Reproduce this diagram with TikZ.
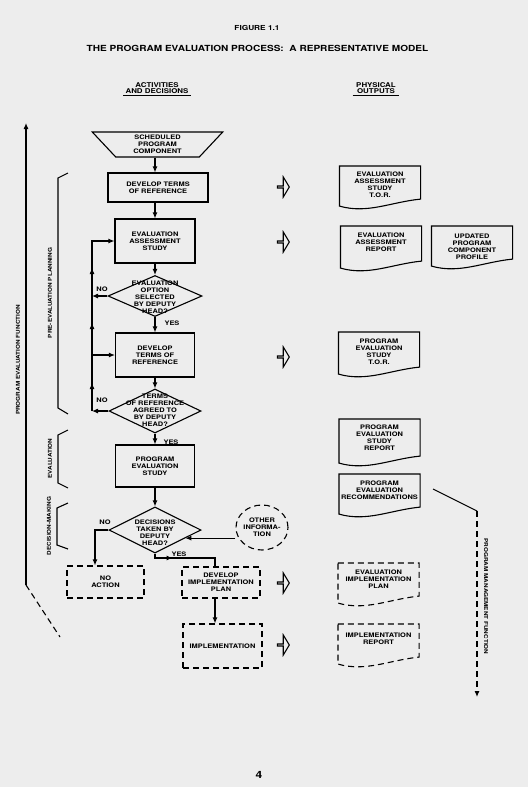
\documentclass[tikz,border=0pt]{standalone}
\usepackage{fontspec}
\setmainfont{TeX Gyre Heros}[FakeStretch=1.2]
\usetikzlibrary{shapes.geometric,shapes.arrows,arrows.meta,decorations.markings,calc}

\newcommand\myboxfont{\fontsize{6.2}{7}\selectfont\bfseries}
\newcommand\myrotfont{\fontsize{5.3}{6}\selectfont\bfseries}
\newcommand\mytitlefont{\fontsize{8.4}{10}\selectfont\bfseries}
\newcommand\myfigfont{\fontsize{6.9}{8}\selectfont\bfseries}
\newcommand\myheadfont{\fontsize{6.6}{6.8}\selectfont\bfseries}
\newcommand\mydoc[2][]{\draw[#1] (#2.north west) -- (#2.north east) -- ([yshift=7pt]#2.south east) .. controls +(-30,3) and +(28,8) .. (#2.south west) -- cycle;}

\begin{document}
\begin{tikzpicture}[x=1pt,y=-1pt,line width=1.1pt,
 box/.style={draw, rectangle, align=center, font=\myboxfont, inner sep=0pt},
 dbox/.style={box, dash pattern=on 6pt off 4pt},
 txt/.style={align=center, font=\myboxfont, inner sep=0pt},
 rot/.style={font=\myrotfont, inner sep=0pt},
 dia/.style={draw, diamond, inner sep=0pt},
 arr/.style={-{Latex[length=6pt,width=5pt]}},
 blk/.style={draw, single arrow, single arrow tip angle=118, single arrow head extend=5pt, minimum width=20pt, minimum height=12pt, inner sep=0pt},
 docshape/.style={rectangle, minimum width=80pt, inner sep=0pt, anchor=north},
 ddash/.style={dash pattern=on 6pt off 4pt},
 midarr/.style={postaction={decorate}, decoration={markings, mark=at position #1 with {\arrow{Latex[length=6pt,width=5pt]}}}}
]
\fill[black!7] (0,0) rectangle (528,787);
\useasboundingbox (0,0) rectangle (528,787);

% titles
\node[font=\myfigfont, inner sep=0pt] (fig) at (257,28) {FIGURE 1.1};
\node[font=\mytitlefont, inner sep=0pt] (title) at (257.5,48) {THE PROGRAM EVALUATION PROCESS:\ \ A REPRESENTATIVE MODEL};
\node[font=\myheadfont, align=center, inner sep=1.5pt] (h1) at (157,88) {ACTIVITIES\\AND DECISIONS};
\draw[line width=0.9pt] (h1.south west) -- (h1.south east);
\node[font=\myheadfont, align=center, inner xsep=3pt, inner ysep=1.5pt] (h2) at (376,88) {PHYSICAL\\OUTPUTS};
\draw[line width=0.9pt] (h2.south west) -- (h2.south east);

% main column
\node[draw, trapezium, shape border rotate=180, trapezium left angle=54, trapezium right angle=54,
      trapezium stretches=true, minimum width=131pt, minimum height=25pt, inner sep=0pt,
      align=center, font=\myboxfont] (trap) at (157.5,144.5) {SCHEDULED\\PROGRAM\\COMPONENT};
\node[box, minimum width=100pt, minimum height=29pt] (dtor1) at (158,187.5) {DEVELOP TERMS\\OF REFERENCE};
\node[box, minimum width=80pt, minimum height=44pt] (eas) at (155,241) {EVALUATION\\ASSESSMENT\\STUDY};
\node[dia, minimum width=94pt, minimum height=41pt] (d1) at (155,296) {};
\node[txt] (d1t) at (155,297.5) {EVALUATION\\OPTION\\SELECTED\\BY DEPUTY\\HEAD?};
\node[box, minimum width=79pt, minimum height=44pt] (dtor2) at (155,355) {DEVELOP\\TERMS OF\\REFERENCE};
\node[dia, minimum width=92pt, minimum height=44pt] (d2) at (155,411) {};
\node[txt] (d2t) at (155,410) {TERMS\\OF REFERENCE\\AGREED TO\\BY DEPUTY\\HEAD?};
\node[box, minimum width=79pt, minimum height=42pt] (pes) at (155,466) {PROGRAM\\EVALUATION\\STUDY};
\node[dia, minimum width=92pt, minimum height=46pt] (d3) at (155,530) {};
\node[txt] (d3t) at (155,532.5) {DECISIONS\\TAKEN BY\\DEPUTY\\HEAD?};
\node[dbox, minimum width=77pt, minimum height=32pt] (noact) at (105.5,582) {NO\\ACTION};
\node[dbox, minimum width=78pt, minimum height=31pt] (dip) at (221,582.5) {DEVELOP\\IMPLEMENTATION\\PLAN};
\node[dbox, minimum width=79pt, minimum height=44pt] (imp) at (222.5,646) {IMPLEMENTATION};
\node[draw, ellipse, ddash, minimum width=52pt, minimum height=45pt, inner sep=0pt] (oi) at (262,527.5) {};
\node[txt] (oit) at (262,527) {OTHER\\INFORMA-\\TION};

% labels
\node[txt] (no1) at (102,289) {NO};
\node[txt] (yes1) at (172,323) {YES};
\node[txt] (no2) at (102,400) {NO};
\node[txt] (yes2) at (171,442) {YES};
\node[txt] (no3) at (105,522) {NO};
\node[txt] (yes3) at (179,554) {YES};

% main arrows
\draw[arr] (trap.south -| eas.center) -- (dtor1.north -| eas.center);
\draw[arr] (dtor1.south -| eas.center) -- (eas.north);
\draw[arr] (eas.south) -- (d1.north);
\draw[arr] (d1.south) -- (dtor2.north);
\draw[arr] (dtor2.south) -- (d2.north);
\draw[arr] (d2.south) -- (pes.north);
\draw[arr] (pes.south) -- (d3.north);

% feedback loop
\coordinate (lx) at (92,0);
\draw[arr] (d1.west) -- (d1.west -| lx);
\draw[arr] (d2.west) -- (d2.west -| lx);
\draw[arr, postaction={decorate}, decoration={markings,
   mark=at position 28pt with {\arrow{Latex[length=6pt,width=5pt]}},
   mark=at position 88pt with {\arrow{Latex[length=6pt,width=5pt]}},
   mark=at position 143pt with {\arrow{Latex[length=6pt,width=5pt]}}}]
   (d2.west -| lx) |- (eas.west);
\draw[arr] (dtor2.west -| lx) -- (dtor2.west);

% decision 3 branches
\coordinate (nx) at (95,0);
\draw[arr] (d3.west) -| (nx |- noact.north);
\coordinate (yx) at (215,558);
\draw[midarr=22pt] (d3.south) |- (yx) -- (yx |- dip.north);
\draw[arr] (dip.south -| yx) -- (imp.north -| yx);
\draw[arr] (oi.west |- d3.-15) -- (d3.-15);

% braces
\draw (68,173) -- (58,178) -- (58,408) -- (68,414);
\draw (68,430) -- (58,435) -- (58,483) -- (68,488);
\draw (68,503) -- (57,508) -- (57,545) -- (68,549);
\node[rot, rotate=90] (pre) at (50,293) {PRE-EVALUATION PLANNING};
\node[rot, rotate=90] (evl) at (50,458.5) {EVALUATION};
\node[rot, rotate=90] (dm) at (49,526) {DECISION-MAKING};

% program evaluation function
\coordinate (pe0) at (26,123);
\coordinate (pe1) at (26,585);
\coordinate (pe2) at (60,637);
\draw[arr] (pe1) -- (pe0);
\draw[ddash] (pe1) -- (pe2);
\node[rot, rotate=90] (pef) at (18,360) {PROGRAM EVALUATION FUNCTION};

% block arrows
\node[blk] (b1) at (283,187) {};
\node[blk] (b2) at (283,242) {};
\node[blk] (b3) at (283,357) {};
\node[blk] (b4) at (283,583) {};
\node[blk] (b5) at (283,645) {};

% documents
\node[docshape, minimum height=39pt] (doc1) at (380,166) {};
\mydoc{doc1}
\node[txt, anchor=north] (doc1t) at ([yshift=-5pt]doc1.north) {EVALUATION\\ASSESSMENT\\STUDY\\T.O.R.};
\node[docshape, minimum height=41pt] (doc2) at (381,226) {};
\mydoc{doc2}
\node[txt, anchor=north] (doc2t) at ([yshift=-6pt]doc2.north) {EVALUATION\\ASSESSMENT\\REPORT};
\node[docshape, minimum height=39pt] (doc3) at (472,226) {};
\mydoc{doc3}
\node[txt, anchor=north] (doc3t) at ([yshift=-7pt]doc3.north) {UPDATED\\PROGRAM\\COMPONENT\\PROFILE};
\node[docshape, minimum height=41pt] (doc4) at (379,332) {};
\mydoc{doc4}
\node[txt, anchor=north] (doc4t) at ([yshift=-6pt]doc4.north) {PROGRAM\\EVALUATION\\STUDY\\T.O.R.};
\node[docshape, minimum height=43pt] (doc5) at (379.5,419) {};
\mydoc{doc5}
\node[txt, anchor=north] (doc5t) at ([yshift=-5pt]doc5.north) {PROGRAM\\EVALUATION\\STUDY\\REPORT};
\node[docshape, minimum height=39pt] (doc6) at (379.5,474) {};
\mydoc{doc6}
\node[txt, anchor=north] (doc6t) at ([yshift=-6.5pt]doc6.north) {PROGRAM\\EVALUATION\\RECOMMENDATIONS};
\node[docshape, minimum height=39pt] (doc7) at (378.5,563) {};
\mydoc[ddash]{doc7}
\node[txt, anchor=north] (doc7t) at ([yshift=-6pt]doc7.north) {EVALUATION\\IMPLEMENTATION\\PLAN};
\node[docshape, minimum height=39pt] (doc8) at (378.5,624) {};
\mydoc[ddash]{doc8}
\node[txt, anchor=north] (doc8t) at ([yshift=-8pt]doc8.north) {IMPLEMENTATION\\REPORT};

% program management function
\coordinate (pm1) at (433,489);
\coordinate (pm2) at (477,511);
\coordinate (pm3) at (477,697);
\draw (pm1) -- (pm2);
\draw[arr, ddash] (pm2) -- (pm3);
\node[rot, rotate=-90] (pmf) at (486,596.5) {PROGRAM MANAGEMENT FUNCTION};

% page number
\node[font=\fontsize{10}{10}\selectfont\bfseries, inner sep=0pt] (pg) at (259,774.5) {4};
\end{tikzpicture}
\end{document}
